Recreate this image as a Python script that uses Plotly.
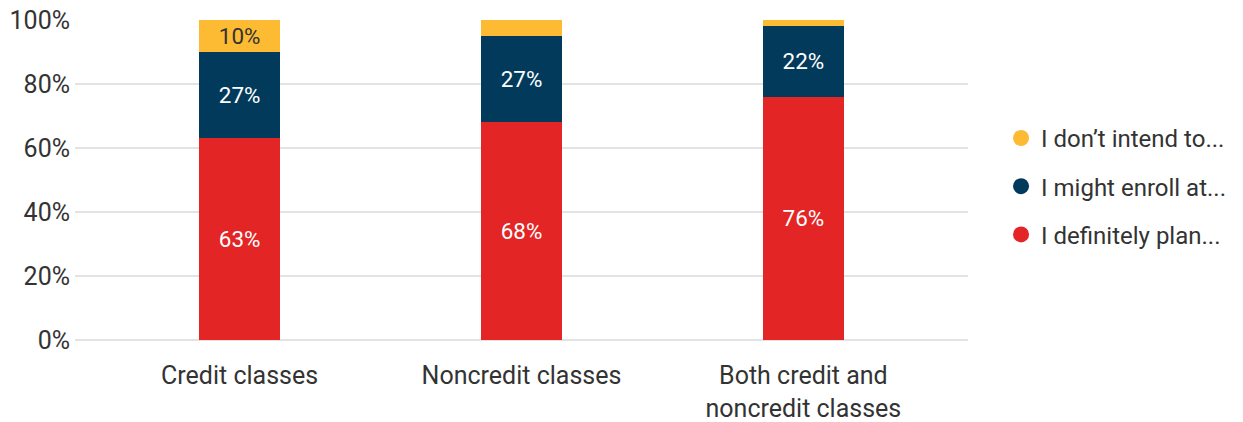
import plotly.graph_objects as go

categories = ["Credit classes", "Noncredit classes", "Both credit and<br>noncredit classes"]
definitely = [63, 68, 76]
might = [27, 27, 22]
dont = [10, 5, 2]
definitely_text = ["63%", "68%", "76%"]
might_text = ["27%", "27%", "22%"]
dont_text = ["10%", "", ""]
legend_names = ["I don’t intend to...", "I might enroll at...", "I definitely plan..."]
y_ticks = [0, 20, 40, 60, 80, 100]
y_ticktext = ["0%", "20%", "40%", "60%", "80%", "100%"]

RED = "#E32526"
NAVY = "#023A5C"
YELLOW = "#FDBA33"

fig = go.Figure()
x = list(range(len(categories)))
bar_w = 0.287

fig.add_trace(go.Bar(x=x, y=definitely, width=bar_w, marker_color=RED, marker_line_width=0,
                     text=definitely_text, textposition="inside", insidetextanchor="middle",
                     textfont=dict(color="white", size=25), showlegend=False))
fig.add_trace(go.Bar(x=x, y=might, width=bar_w, marker_color=NAVY, marker_line_width=0,
                     text=might_text, textposition="inside", insidetextanchor="middle",
                     textfont=dict(color="white", size=25), showlegend=False))
fig.add_trace(go.Bar(x=x, y=dont, width=bar_w, marker_color=YELLOW, marker_line_width=0,
                     text=dont_text, textposition="inside", insidetextanchor="middle",
                     textfont=dict(color="#333333", size=25), showlegend=False))

# legend entries with round markers
for i, (name, col) in enumerate(zip(legend_names, [YELLOW, NAVY, RED])):
    fig.add_trace(go.Scatter(x=[None], y=[None], mode="markers", name=name,
                             legendgroup=f"g{i}",
                             marker=dict(symbol="circle", size=20, color=col)))

fig.update_layout(
    barmode="stack",
    width=1243, height=422,
    margin=dict(l=75, r=273, t=20, b=82),
    paper_bgcolor="white", plot_bgcolor="white",
    font=dict(family="Roboto", size=25, color="#333333"),
    uniformtext=dict(mode="show", minsize=10),
    legend=dict(x=1.037, y=0.48, xanchor="left", yanchor="middle",
                font=dict(size=24, color="#333333"), itemsizing="trace",
                tracegroupgap=14, traceorder="grouped"),
)
fig.update_xaxes(range=[-0.584, 2.584], tickmode="array", tickvals=x, ticktext=categories,
                 showgrid=False, zeroline=False, showline=False, ticklabelstandoff=18,
                 tickfont=dict(size=25), automargin=False)
fig.update_yaxes(range=[0, 100], tickmode="array", tickvals=y_ticks, ticktext=y_ticktext,
                 showgrid=True, gridcolor="#E3E3E3", gridwidth=2,
                 zeroline=True, zerolinecolor="#E3E3E3", zerolinewidth=2,
                 ticklabelstandoff=4, tickfont=dict(size=25), automargin=False)

fig.write_html("out.html", config={"displayModeBar": False},
               post_script="document.body.style.margin='0';")
